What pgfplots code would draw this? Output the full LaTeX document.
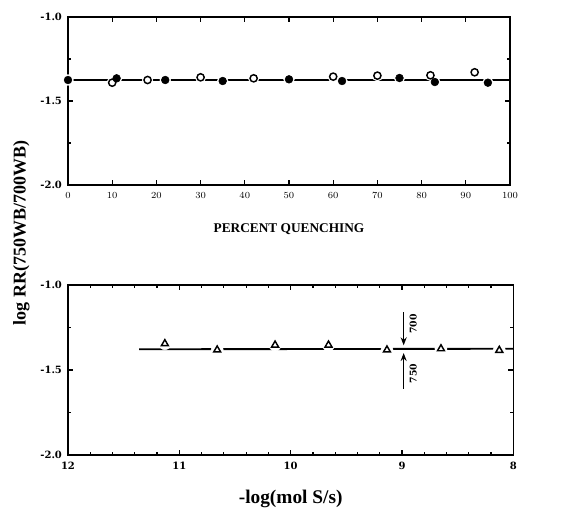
\documentclass[border=0pt]{standalone}
\usepackage{pgfplots}
\pgfplotsset{compat=1.18}
\usepackage{fontspec}
\setmainfont{Liberation Serif}
\newfontfamily\tickfont{DejaVu Serif}
\usetikzlibrary{arrows.meta}

% common look of both panels
\pgfplotsset{
  panel/.style={
    scale only axis,
    axis line style={line width=1.1pt},
    tick style={line width=0.9pt, black},
    major tick length=4pt, minor tick length=2.5pt,
    tick align=inside,
    ymin=-2, ymax=-1,
    ytick={-2,-1.5,-1}, yticklabels={-2.0,-1.5,-1.0},
    minor ytick={-1.75,-1.25},
    tick label style={font=\tickfont\fontsize{7.5}{8}\selectfont\bfseries},
    yticklabel style={xshift=-1pt},
    xticklabel style={yshift=-2pt},
  },
  halo/.style={only marks, mark=*, white, mark size=4pt},
}

\begin{document}
\begin{tikzpicture}
% page = 564 x 508 px, 1 px = 0.75 pt, origin at upper panel's top-left corner
\useasboundingbox (-51pt,12.75pt) rectangle (372pt,-368.25pt);
% ---- upper panel: percent quenching
\begin{axis}[panel, name=top, at={(0,0)}, anchor=north west,
    width=331.5pt, height=126pt,
    xmin=0, xmax=100,
    xtick={0,10,...,100},
    xlabel={PERCENT QUENCHING},
    xlabel style={font=\fontsize{10}{12}\selectfont\bfseries, yshift=-12pt},
  ]
  \addplot[line width=1.4pt, black] coordinates {(0,-1.375) (100,-1.375)};
  \addplot[halo] coordinates {
    (0,-1.375) (11,-1.365) (22,-1.375) (35,-1.381) (50,-1.371) (62,-1.381)
    (75,-1.363) (83,-1.387) (95,-1.391)
    (10,-1.391) (18,-1.375) (30,-1.359) (42,-1.365) (60,-1.355) (70,-1.349)
    (82,-1.347) (92,-1.329)};
  % open circles
  \addplot[only marks, black, mark=o, mark size=2.7pt, mark options={line width=1.1pt, fill=white}] coordinates {
    (10,-1.391) (18,-1.375) (30,-1.359) (42,-1.365) (60,-1.355) (70,-1.349)
    (82,-1.347) (92,-1.329)};
  % filled circles
  \addplot[only marks, mark=*, mark size=2.9pt, black] coordinates {
    (0,-1.375) (11,-1.365) (22,-1.375) (35,-1.381) (50,-1.371) (62,-1.381)
    (75,-1.363) (83,-1.387) (95,-1.391)};
\end{axis}

% ---- lower panel: sulfur flux
\begin{axis}[panel, name=bot, at={(0,-201pt)}, anchor=north west,
    width=334pt, height=127.5pt,
    xmin=8, xmax=12, x dir=reverse,
    xtick={8,9,10,11,12}, xticklabels={8,9,10,11,12},
    minor x tick num=4,
    xlabel={-log(mol S/s)},
    xlabel style={font=\fontsize{14.5}{16}\selectfont\bfseries, yshift=-8pt},
  ]
  \addplot[line width=1.4pt, black] coordinates {(11.36,-1.378) (8,-1.375)};
  \addplot[halo, mark size=4.5pt] coordinates {
    (11.13,-1.345) (10.66,-1.382) (10.14,-1.353) (9.66,-1.353)
    (9.135,-1.382) (8.65,-1.375) (8.126,-1.384)};
  \addplot[only marks, black, mark=triangle, mark size=3pt, mark options={line width=1.1pt}] coordinates {
    (11.13,-1.345) (10.66,-1.382) (10.14,-1.353) (9.66,-1.353)
    (9.135,-1.382) (8.65,-1.375) (8.126,-1.384)};
  % arrows marking the 700 and 750 nm readings
  \draw[line width=1pt, -{Stealth[length=6pt, width=4.5pt]}] (axis cs:8.985,-1.16) -- (axis cs:8.985,-1.355);
  \draw[line width=1pt, -{Stealth[length=6pt, width=4.5pt]}] (axis cs:8.985,-1.61) -- (axis cs:8.985,-1.40);
  \node[rotate=90, font=\tickfont\fontsize{7}{8}\selectfont\bfseries] at (axis cs:8.90,-1.23) {700};
  \node[rotate=90, font=\tickfont\fontsize{7}{8}\selectfont\bfseries] at (axis cs:8.90,-1.52) {750};
\end{axis}

% shared y label
\node[rotate=90, font=\fontsize{13.5}{15}\selectfont\bfseries] at (-35pt,-162pt) {log RR(750WB/700WB)};
\end{tikzpicture}
\end{document}
